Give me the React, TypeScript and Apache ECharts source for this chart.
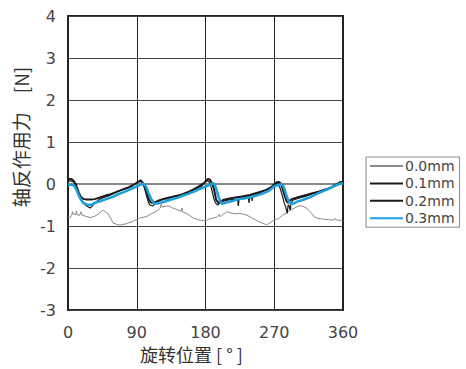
import React, { useEffect, useRef } from "react";
import * as echarts from "echarts";

const seriesNames = ["0.0mm", "0.1mm", "0.2mm", "0.3mm"];
const xTicks = [0, 90, 180, 270, 360];
const yTicks = [-3, -2, -1, 0, 1, 2, 3, 4];

const s00: [number, number][] = [
  [0, -0.79], [3, -0.8], [5, -0.74], [6, -0.66], [7, -0.72], [10, -0.73], [11, -0.64], [12, -0.73],
  [15, -0.75], [17, -0.66], [18, -0.74], [22, -0.76], [29, -0.8], [33, -0.78], [37, -0.75],
  [42, -0.68], [46, -0.62], [49, -0.66], [52, -0.7], [56, -0.82], [59, -0.93], [64, -0.96],
  [68, -0.98], [72, -0.96], [76, -0.95], [80, -0.92], [84, -0.9], [88, -0.86], [94, -0.81],
  [102, -0.78], [106, -0.74], [111, -0.69], [115, -0.66], [118, -0.62], [121, -0.57],
  [122, -0.47], [123, -0.55], [127, -0.53], [131, -0.52], [137, -0.57], [144, -0.62],
  [148, -0.65], [149, -0.57], [150, -0.66], [157, -0.72], [164, -0.81], [168, -0.84],
  [173, -0.86], [177, -0.87], [181, -0.88], [184, -0.84], [188, -0.82], [192, -0.8],
  [195, -0.79], [198, -0.72], [199, -0.78], [202, -0.74], [205, -0.7], [208, -0.66],
  [212, -0.68], [216, -0.7], [220, -0.71], [225, -0.7], [230, -0.72], [234, -0.74],
  [240, -0.8], [245, -0.85], [250, -0.9], [254, -0.93], [257, -0.95], [260, -0.97],
  [264, -0.93], [268, -0.88], [272, -0.85], [276, -0.82], [281, -0.74], [285, -0.7],
  [289, -0.65], [293, -0.6], [297, -0.57], [300, -0.54], [304, -0.52], [307, -0.53],
  [310, -0.55], [314, -0.6], [317, -0.66], [320, -0.72], [322, -0.78], [327, -0.82],
  [332, -0.83], [336, -0.84], [341, -0.85], [347, -0.86], [350, -0.82], [351, -0.86],
  [356, -0.86], [360, -0.88],
];

const s01: [number, number][] = [
  [0, 0.08], [4, 0.07], [8, 0.05], [12, -0.15], [15, -0.3], [18, -0.4], [21, -0.47],
  [24, -0.52], [29, -0.57], [32, -0.52], [34, -0.48], [37, -0.42], [40, -0.38], [45, -0.33],
  [50, -0.3], [58, -0.24], [65, -0.18], [72, -0.13], [80, -0.08], [86, -0.02], [92, 0.05],
  [95, 0.1], [97, 0.06], [99, 0.0], [101, -0.15], [103, -0.3], [105, -0.42], [107, -0.5],
  [111, -0.52], [114, -0.46], [116, -0.42], [122, -0.38], [130, -0.35], [137, -0.31],
  [145, -0.27], [152, -0.22], [160, -0.17], [168, -0.11], [175, -0.05], [179, 0.03],
  [182, 0.08], [185, 0.05], [187, -0.05], [189, -0.2], [191, -0.35], [193, -0.45],
  [196, -0.5], [198, -0.46], [200, -0.42], [205, -0.4], [210, -0.38], [216, -0.37],
  [222, -0.36], [223, -0.52], [224, -0.35], [230, -0.33], [236, -0.3], [237, -0.45],
  [238, -0.3], [240, -0.28], [241, -0.4], [242, -0.28], [250, -0.22], [258, -0.15],
  [265, -0.08], [270, 0.0], [273, 0.05], [276, 0.0], [278, -0.12], [281, -0.3],
  [283, -0.45], [285, -0.55], [287, -0.7], [288, -0.52], [289, -0.5], [291, -0.62],
  [292, -0.45], [295, -0.38], [300, -0.35], [305, -0.32], [310, -0.3], [318, -0.25],
  [325, -0.2], [332, -0.15], [340, -0.1], [346, -0.06], [352, -0.02], [356, 0.03],
  [360, 0.08],
];

const s02: [number, number][] = [
  [0, 0.12], [3, 0.12], [6, 0.1], [8, 0.06], [10, 0.0], [12, -0.1], [14, -0.2],
  [16, -0.28], [18, -0.33], [21, -0.36], [25, -0.37], [30, -0.37], [35, -0.36],
  [40, -0.33], [45, -0.3], [50, -0.27], [55, -0.25], [62, -0.2], [70, -0.14], [78, -0.09],
  [85, -0.03], [90, 0.03], [94, 0.07], [97, 0.05], [99, -0.02], [101, -0.1], [103, -0.22],
  [106, -0.38], [108, -0.43], [110, -0.45], [114, -0.43], [118, -0.4], [124, -0.36],
  [130, -0.33], [140, -0.29], [150, -0.25], [158, -0.19], [165, -0.12], [172, -0.05],
  [178, 0.02], [181, 0.08], [183, 0.12], [186, 0.1], [188, 0.03], [190, -0.05],
  [192, -0.2], [194, -0.38], [197, -0.45], [200, -0.42], [203, -0.38], [210, -0.35],
  [217, -0.33], [228, -0.3], [238, -0.26], [249, -0.2], [260, -0.14], [266, -0.08],
  [270, -0.02], [273, 0.03], [275, 0.05], [277, 0.04], [279, 0.0], [281, -0.12],
  [284, -0.3], [286, -0.4], [288, -0.45], [290, -0.4], [293, -0.36], [300, -0.32],
  [306, -0.29], [312, -0.26], [320, -0.22], [330, -0.18], [338, -0.14], [345, -0.08],
  [350, -0.02], [354, 0.02], [357, 0.05], [360, 0.05],
];

const s03: [number, number][] = [
  [0, -0.02], [5, -0.02], [8, -0.04], [10, -0.1], [13, -0.22], [15, -0.31], [18, -0.4],
  [20, -0.45], [23, -0.48], [27, -0.5], [31, -0.49], [35, -0.45], [42, -0.41],
  [50, -0.36], [58, -0.31], [65, -0.25], [72, -0.2], [80, -0.14], [86, -0.09],
  [92, -0.04], [97, 0.0], [100, 0.0], [102, -0.06], [104, -0.15], [106, -0.24],
  [109, -0.36], [112, -0.44], [115, -0.47], [120, -0.45], [128, -0.41], [135, -0.37],
  [143, -0.33], [150, -0.28], [158, -0.23], [165, -0.18], [172, -0.12], [180, -0.07],
  [185, -0.02], [188, 0.0], [191, 0.02], [193, -0.06], [195, -0.18], [197, -0.3],
  [199, -0.4], [202, -0.47], [206, -0.45], [210, -0.43], [218, -0.39], [225, -0.36],
  [232, -0.34], [240, -0.31], [248, -0.27], [255, -0.23], [262, -0.17], [267, -0.1],
  [270, -0.06], [274, -0.03], [277, -0.02], [280, 0.0], [282, -0.06], [284, -0.15],
  [286, -0.28], [289, -0.42], [293, -0.48], [297, -0.45], [300, -0.42], [307, -0.38],
  [315, -0.33], [322, -0.27], [330, -0.2], [338, -0.14], [345, -0.08], [350, -0.04],
  [355, 0.0], [360, 0.02],
];

const seriesData = [s00, s01, s02, s03];
const seriesColors = ["#8a8a8a", "#1a1a1a", "#1a1a1a", "#1aa0dc"];
const seriesWidths = [1, 1.2, 2, 2.5];

export default function App() {
  const ref = useRef<HTMLDivElement>(null);
  useEffect(() => {
    if (!ref.current) return;
    const chart = echarts.init(ref.current, undefined, { renderer: "svg" });
    const font = "'DejaVu Sans', sans-serif";
    chart.setOption({
      animation: false,
      backgroundColor: "#ffffff",
      grid: {
        left: 68,
        right: 123,
        top: 16,
        bottom: 59,
        show: true,
        borderColor: "#222",
        borderWidth: 2,
        backgroundColor: "transparent",
      },
      legend: {
        orient: "vertical",
        left: 366,
        top: 157,
        data: seriesNames,
        itemWidth: 33,
        itemHeight: 14,
        itemGap: 3.4,
        padding: [2, 5, 2, 3],
        borderColor: "#888",
        borderWidth: 1,
        itemStyle: { opacity: 0 },
        textStyle: { fontFamily: font, fontSize: 14, color: "#444", padding: [0, 0, 0, -3] },
      },
      xAxis: {
        type: "value",
        min: xTicks[0],
        max: xTicks[xTicks.length - 1],
        interval: 90,
        axisLine: { show: true, lineStyle: { color: "#222", width: 2 } },
        axisTick: { show: false },
        axisLabel: { margin: 14, fontFamily: font, fontSize: 16, color: "#444" },
        splitLine: { show: true, lineStyle: { color: "#222", width: 1 } },
      },
      yAxis: {
        type: "value",
        min: yTicks[0],
        max: yTicks[yTicks.length - 1],
        interval: 1,
        axisLine: { show: true, lineStyle: { color: "#222", width: 2 } },
        axisTick: { show: false },
        axisLabel: { margin: 12, fontFamily: font, fontSize: 16, color: "#444" },
        splitLine: { show: true, lineStyle: { color: "#444", width: 1 } },
      },
      graphic: [
        {
          type: "text",
          x: 20,
          y: 137,
          rotation: Math.PI / 2,
          style: {
            text: "轴反作用力　[N]",
            font: "19px 'Noto Sans CJK SC', sans-serif",
            fill: "#333",
            textAlign: "center",
            textVerticalAlign: "middle",
          },
        },
        {
          type: "text",
          x: 140,
          y: 354,
          style: {
            text: "旋转位置 [ ° ]",
            font: "18px 'Noto Sans CJK SC', sans-serif",
            fill: "#333",
            textAlign: "left",
            textVerticalAlign: "middle",
          },
        },
      ],
      series: seriesNames.map((name, i) => ({
        name,
        type: "line",
        data: seriesData[i],
        symbol: "none",
        smooth: false,
        z: 2 + i,
        lineStyle: { color: seriesColors[i], width: seriesWidths[i] },
        itemStyle: { color: seriesColors[i] },
        markLine:
          i === 0
            ? {
                silent: true,
                symbol: "none",
                label: { show: false },
                lineStyle: { color: "#888", width: 2, type: "solid" },
                data: [{ yAxis: 0 }],
                z: 1,
              }
            : undefined,
      })),
    });
    return () => chart.dispose();
  }, []);
  return (
    <div
      ref={ref}
      style={{ position: "fixed", left: 0, top: 0, width: 466, height: 369 }}
    />
  );
}
